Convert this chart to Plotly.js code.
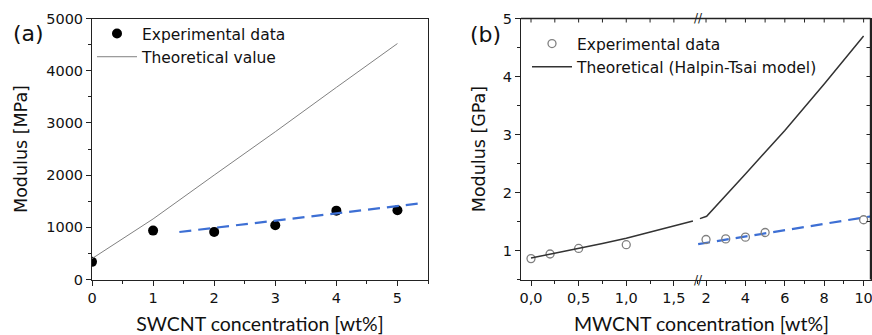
<!DOCTYPE html>
<html>
<head>
<meta charset="utf-8">
<script src="https://cdn.plot.ly/plotly-3.0.1.min.js"></script>
<style>html,body{margin:0;padding:0;background:#fff}#chart{width:872px;height:335px}</style>
</head>
<body>
<div id="chart"></div>
<script>
// ---- Panel (a): SWCNT ----
const swcntExpX = [0, 1, 2, 3, 4, 5];
const swcntExpY = [338, 937, 912, 1038, 1319, 1325];
const swcntTheoX = [0, 1, 2, 3, 4, 5];
const swcntTheoY = [400, 1160, 2000, 2830, 3680, 4520];
const swcntFitX = [1.43, 5.35];
const swcntFitY = [910, 1455];
const aXTicks = [0, 1, 2, 3, 4, 5];
const aXLabels = ['0', '1', '2', '3', '4', '5'];
const aYTicks = [0, 1000, 2000, 3000, 4000, 5000];
const aYLabels = ['0', '1000', '2000', '3000', '4000', '5000'];

// ---- Panel (b): MWCNT (broken x axis) ----
const mwLowExpX = [0, 0.2, 0.5, 1.0];
const mwLowExpY = [0.86, 0.94, 1.035, 1.10];
const mwHighExpX = [2, 3, 4, 5, 10];
const mwHighExpY = [1.19, 1.20, 1.23, 1.31, 1.53];
const mwLowTheoX = [0, 0.25, 0.5, 0.75, 1.0, 1.25, 1.5, 1.7];
const mwLowTheoY = [0.87, 0.95, 1.04, 1.12, 1.21, 1.32, 1.43, 1.51];
const mwHighTheoX = [1.69, 2.03, 4, 6, 8, 10];
const mwHighTheoY = [1.55, 1.59, 2.32, 3.07, 3.87, 4.70];
const mwFitX = [1.6, 10.4];
const mwFitY = [1.11, 1.59];
const bLowTicks = [0, 0.5, 1.0, 1.5];
const bLowLabels = ['0,0', '0,5', '1,0', '1,5'];
const bHighTicks = [2, 4, 6, 8, 10];
const bHighLabels = ['2', '4', '6', '8', '10'];
const bYTicks = [1, 2, 3, 4, 5];
const bYLabels = ['1', '2', '3', '4', '5'];
// inside ticks on the top and right frame of panel (b)
const bTopTicksLow = [0, 0.25, 0.5, 0.75, 1.0, 1.25, 1.5];
const bTopTicksHigh = [2, 3, 4, 5, 6, 7, 8, 9, 10];
const bRightTicks = [1, 1.5, 2, 2.5, 3, 3.5, 4, 4.5];

const FONT = '"DejaVu Sans", Arial, sans-serif';
const TITLEFONT = 'Lato, "Open Sans", sans-serif';
const blue = '#3d6fd4';
const gray = '#808080';
const ink = '#222';

const traces = [
  {x: swcntExpX, y: swcntExpY, type: 'scatter', mode: 'markers', name: 'Experimental data',
   marker: {color: '#000', size: 10}, xaxis: 'x', yaxis: 'y', legend: 'legend'},
  {x: swcntTheoX, y: swcntTheoY, type: 'scatter', mode: 'lines', name: 'Theoretical value',
   line: {color: gray, width: 1}, xaxis: 'x', yaxis: 'y', legend: 'legend'},
  {x: swcntFitX, y: swcntFitY, type: 'scatter', mode: 'lines', showlegend: false,
   line: {color: blue, width: 2.2, dash: '12px,7px'}, xaxis: 'x', yaxis: 'y'},

  {x: mwLowExpX, y: mwLowExpY, type: 'scatter', mode: 'markers', name: 'Experimental data',
   marker: {symbol: 'circle-open', color: gray, size: 8, line: {width: 1.3, color: gray}},
   xaxis: 'x2', yaxis: 'y2', legend: 'legend2'},
  {x: mwLowTheoX, y: mwLowTheoY, type: 'scatter', mode: 'lines', name: 'Theoretical (Halpin-Tsai model)',
   line: {color: '#333', width: 1.5}, xaxis: 'x2', yaxis: 'y2', legend: 'legend2'},
  {x: mwHighTheoX, y: mwHighTheoY, type: 'scatter', mode: 'lines', showlegend: false,
   line: {color: '#333', width: 1.5}, xaxis: 'x3', yaxis: 'y3'},
  {x: mwFitX, y: mwFitY, type: 'scatter', mode: 'lines', showlegend: false,
   line: {color: blue, width: 2.2, dash: '12px,7px'}, xaxis: 'x3', yaxis: 'y3'},
  {x: mwHighExpX, y: mwHighExpY, type: 'scatter', mode: 'markers', showlegend: false,
   marker: {symbol: 'circle-open', color: gray, size: 8, line: {width: 1.3, color: gray}},
   xaxis: 'x3', yaxis: 'y3'}
];

const yDom = [1 - 279.5/335, 1 - 18.5/335];
const bLeft = 521/872, bBreak = 697.7/872, bRight = 870.5/872;
const axBase = {showgrid: false, zeroline: false, showline: true, linecolor: ink, linewidth: 1,
  tickcolor: ink, ticklen: 5, tickwidth: 1, tickfont: {family: FONT, size: 14.5, color: '#111'}};

// frame lines and inside ticks of panel (b)
const tickV = 4/335, tickH = 4/872;
const frameLine = {color: ink, width: 1.4};
const shapes = [
  {type: 'line', layer: 'above', xref: 'paper', yref: 'paper', x0: bLeft, x1: bRight, y0: yDom[1], y1: yDom[1], line: frameLine},
  {type: 'line', layer: 'above', xref: 'paper', yref: 'paper', x0: bRight, x1: bRight, y0: yDom[0], y1: yDom[1], line: frameLine}
].concat(
  bTopTicksLow.map(v => ({type: 'line', layer: 'above', xref: 'x2', yref: 'paper', x0: v, x1: v, y0: yDom[1], y1: yDom[1] - tickV, line: {color: ink, width: 1}})),
  bTopTicksHigh.map(v => ({type: 'line', layer: 'above', xref: 'x3', yref: 'paper', x0: v, x1: v, y0: yDom[1], y1: yDom[1] - tickV, line: {color: ink, width: 1}})),
  bRightTicks.map(v => ({type: 'line', layer: 'above', xref: 'paper', yref: 'y2', x0: bRight, x1: bRight - tickH, y0: v, y1: v, line: {color: ink, width: 1}}))
);

const layout = {
  width: 872, height: 335,
  margin: {l: 0, r: 0, t: 0, b: 0},
  paper_bgcolor: '#fff', plot_bgcolor: 'rgba(0,0,0,0)',
  showlegend: true,
  xaxis: Object.assign({}, axBase, {domain: [92/872, 428/872], range: [0, 5.5], anchor: 'y',
    tickvals: aXTicks, ticktext: aXLabels, ticks: 'outside', mirror: true,
    minor: {dtick: 0.5, tick0: 0, ticks: 'outside', ticklen: 3, tickcolor: ink},
    title: {text: 'SWCNT concentration [wt%]', font: {family: TITLEFONT, size: 19.5, color: '#111'}, standoff: 12}}),
  yaxis: Object.assign({}, axBase, {domain: yDom, range: [0, 5000], anchor: 'x',
    tickvals: aYTicks, ticktext: aYLabels, ticks: 'outside', mirror: true,
    minor: {dtick: 500, tick0: 0, ticks: 'outside', ticklen: 3, tickcolor: ink},
    title: {text: 'Modulus [MPa]', font: {family: FONT, size: 17.5, color: '#111'}, standoff: 14}}),

  xaxis2: Object.assign({}, axBase, {domain: [bLeft, bBreak], range: [-0.105, 1.75], anchor: 'y2',
    tickvals: bLowTicks, ticktext: bLowLabels, ticks: 'outside', mirror: true,
    minor: {dtick: 0.25, tick0: 0, ticks: 'outside', ticklen: 3, tickcolor: ink}}),
  xaxis3: Object.assign({}, axBase, {domain: [bBreak, bRight], range: [1.577, 10.35], anchor: 'y3',
    tickvals: bHighTicks, ticktext: bHighLabels, ticks: 'outside', ticklabeloverflow: 'allow', mirror: true,
    minor: {dtick: 1, tick0: 0, ticks: 'outside', ticklen: 3, tickcolor: ink}}),
  yaxis2: Object.assign({}, axBase, {domain: yDom, range: [0.5, 5], anchor: 'x2',
    tickvals: bYTicks, ticktext: bYLabels, ticks: 'outside',
    minor: {dtick: 0.5, tick0: 0, ticks: 'outside', ticklen: 3, tickcolor: ink},
    title: {text: 'Modulus [GPa]', font: {family: FONT, size: 17.5, color: '#111'}, standoff: 12}}),
  yaxis3: {domain: yDom, range: [0.5, 5], anchor: 'x3', side: 'right', showline: true, linecolor: ink, linewidth: 1,
    showgrid: false, zeroline: false, showticklabels: false, ticks: ''},

  shapes: shapes,

  legend: {x: 92/872, y: 1 - 17/335, xanchor: 'left', yanchor: 'top', bgcolor: 'rgba(0,0,0,0)',
    font: {family: FONT, size: 15.5, color: '#111'}, tracegroupgap: 0, itemwidth: 40},
  legend2: {x: 527/872, y: 1 - 27/335, xanchor: 'left', yanchor: 'top', bgcolor: 'rgba(0,0,0,0)',
    font: {family: FONT, size: 15.5, color: '#111'}, tracegroupgap: 0, itemwidth: 40},

  annotations: [
    {text: '(a)', x: 11/872, y: 1 - 34/335, xref: 'paper', yref: 'paper', xanchor: 'left', yanchor: 'middle',
     showarrow: false, font: {family: FONT, size: 22, color: '#111'}},
    {text: '(b)', x: 468/872, y: 1 - 35/335, xref: 'paper', yref: 'paper', xanchor: 'left', yanchor: 'middle',
     showarrow: false, font: {family: FONT, size: 22, color: '#111'}},
    {text: '//', x: 698/872, y: 1 - 18.5/335, xref: 'paper', yref: 'paper', xanchor: 'center', yanchor: 'middle',
     showarrow: false, font: {family: FONT, size: 12, color: ink}},
    {text: '//', x: 698/872, y: 1 - 279.5/335, xref: 'paper', yref: 'paper', xanchor: 'center', yanchor: 'middle',
     showarrow: false, font: {family: FONT, size: 12, color: ink}},
    {text: 'MWCNT concentration [wt%]', x: 701/872, y: 1 - 323.5/335, xref: 'paper', yref: 'paper',
     xanchor: 'center', yanchor: 'middle', showarrow: false, font: {family: TITLEFONT, size: 19.5, color: '#111'}}
  ]
};

Plotly.newPlot('chart', traces, layout, {displayModeBar: false, staticPlot: true});
</script>
</body>
</html>
